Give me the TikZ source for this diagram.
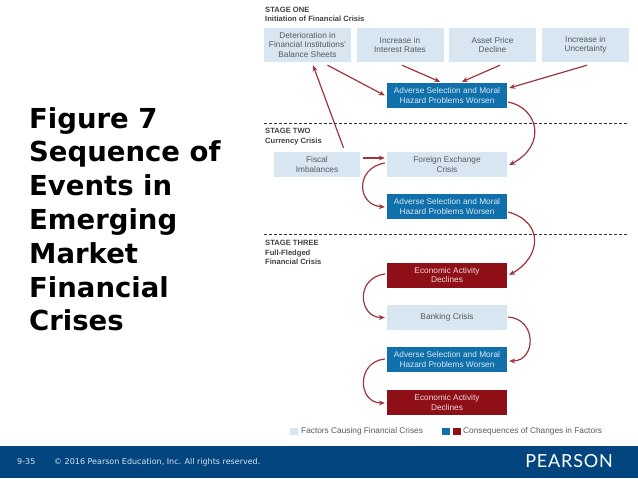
\documentclass[tikz,border=0pt]{standalone}
\usepackage{fontspec}
\setmainfont{Liberation Sans}
\newfontfamily\titlefont{DejaVu Sans}
\newfontfamily\footerfont{DejaVu Sans}
\newfontfamily\logofont[LetterSpace=4.5]{Lato}
\usetikzlibrary{arrows.meta}
\definecolor{factorcolor}{RGB}{215,230,240}
\definecolor{bluecolor}{RGB}{16,112,171}
\definecolor{redcolor}{RGB}{143,15,23}
\definecolor{arrowcolor}{RGB}{158,52,60}
\definecolor{footercolor}{RGB}{3,70,127}
\definecolor{boxtextcolor}{RGB}{85,90,95}
\tikzstyle{factorbox} = [fill=factorcolor, text=boxtextcolor, align=center, inner sep=0, font=\fontsize{8.3}{9.4}\selectfont]
\tikzstyle{bluebox} = [fill=bluecolor, text=white!85!bluecolor, align=center, inner sep=0, minimum width=120, minimum height=25, font=\fontsize{8.3}{9.4}\selectfont]
\tikzstyle{redbox} = [fill=redcolor, text=white!85!redcolor, align=center, inner sep=0, minimum width=120, minimum height=25, font=\fontsize{8.3}{9.4}\selectfont]
\tikzstyle{stagelabel} = [anchor=west, align=left, inner sep=0, text=black!75, font=\bfseries\fontsize{7.6}{9.4}\selectfont]
\tikzstyle{legendlabel} = [anchor=west, inner sep=0, text=boxtextcolor, font=\fontsize{8.3}{10}\selectfont]
\tikzstyle{swatch} = [inner sep=0, minimum width=8, minimum height=7]
\tikzstyle{link} = [-{Stealth[length=6pt,width=5pt]}, arrowcolor, line width=1.2pt]
\tikzstyle{stageline} = [black!80, line width=1pt, dash pattern=on 3pt off 2pt]

\begin{document}
\begin{tikzpicture}[x=1pt, y=-1pt]
            \useasboundingbox (0,0) rectangle (638,479);

            % Title
            \node[anchor=north west, align=left, inner sep=0, font=\titlefont\bfseries\fontsize{27.5}{33.8}\selectfont] (title) at (29,107) {Figure 7\\Sequence of\\Events in\\Emerging\\Market\\Financial\\Crises};

            % Stage one
            \node[stagelabel] (stageone) at (265,14.5) {STAGE ONE\\Initiation of Financial Crisis};
            \node[factorbox, minimum width=87, minimum height=34] (sheets) at (307.5,45) {Deterioration in\\Financial Institutions'\\Balance Sheets};
            \node[factorbox, minimum width=87, minimum height=34] (rates) at (400,45) {Increase in\\Interest Rates};
            \node[factorbox, minimum width=87, minimum height=34] (prices) at (492.5,45) {Asset Price\\Decline};
            \node[factorbox, minimum width=87, minimum height=34] (uncertainty) at (585.5,45) {Increase in\\Uncertainty};
            \node[bluebox] (adverseone) at (447,95.5) {Adverse Selection and Moral\\Hazard Problems Worsen};

            % Stage two
            \node[stagelabel] (stagetwo) at (265,136.5) {STAGE TWO\\Currency Crisis};
            \node[factorbox, minimum width=86, minimum height=25] (fiscal) at (317,164.5) {Fiscal\\Imbalances};
            \node[factorbox, minimum width=120, minimum height=25] (foreign) at (447,164.5) {Foreign Exchange\\Crisis};
            \node[bluebox] (adversetwo) at (447,206.5) {Adverse Selection and Moral\\Hazard Problems Worsen};

            % Stage three
            \node[stagelabel] (stagethree) at (265,252.5) {STAGE THREE\\Full-Fledged\\Financial Crisis};
            \node[redbox] (activityone) at (447,275) {Economic Activity\\Declines};
            \node[factorbox, minimum width=120, minimum height=25] (banking) at (447,317.5) {Banking Crisis};
            \node[bluebox] (adversethree) at (447,359.5) {Adverse Selection and Moral\\Hazard Problems Worsen};
            \node[redbox] (activitytwo) at (447,402.5) {Economic Activity\\Declines};

            % Connecting lines
            \draw[link] ([xshift=20, yshift=-3]sheets.south) -- ([xshift=-2, yshift=0]adverseone.west);
            \draw[link] ([xshift=2, yshift=-3]rates.south) -- ([xshift=-7, yshift=1]adverseone.north);
            \draw[link] ([xshift=7.5, yshift=-3]prices.south) -- ([xshift=15, yshift=1]adverseone.north);
            \draw[link] ([xshift=1.5, yshift=-3]uncertainty.south) -- ([xshift=2, yshift=7.5]adverseone.east);
            \draw[link] ([xshift=26.5, yshift=4]fiscal.north) -- ([xshift=5.5, yshift=-3]sheets.south);
            \draw[link] ([xshift=3, yshift=6.5]fiscal.east) -- ([xshift=-2, yshift=6.5]foreign.west);
            \draw[link] ([xshift=1, yshift=-6.5]adverseone.east) .. controls +(30,6) and +(38,-20) .. ([xshift=2, yshift=-0.5]foreign.east);
            \draw[link] ([xshift=-2, yshift=1.5]foreign.west) .. controls +(-30,5) and +(-28,-2) .. ([xshift=-2, yshift=-0.5]adversetwo.west);
            \draw[link] ([xshift=1, yshift=-5.5]adversetwo.east) .. controls +(36,10) and +(32,-18) .. ([xshift=2]activityone.east);
            \draw[link] ([xshift=-2, yshift=1]activityone.west) .. controls +(-30,4) and +(-26,0) .. ([xshift=-2]banking.west);
            \draw[link] ([xshift=1, yshift=0.5]banking.east) .. controls +(29,2) and +(27,0) .. ([xshift=2, yshift=-1.5]adversethree.east);
            \draw[link] ([xshift=-2, yshift=0.5]adversethree.west) .. controls +(-29,3) and +(-27,0) .. ([xshift=-2, yshift=-0.5]activitytwo.west);

            % Stage borders
            \coordinate (borderoneleft) at (264,123);
            \coordinate (borderoneright) at (629,123);
            \coordinate (bordertwoleft) at (264,234);
            \coordinate (bordertworight) at (629,234);
            \draw[stageline] (borderoneleft) -- (borderoneright);
            \draw[stageline] (bordertwoleft) -- (bordertworight);

            % Legend
            \node[swatch, fill=factorcolor] (swatchfactor) at (294,431) {};
            \node[legendlabel] (legendfactor) at (301,431) {Factors Causing Financial Crises};
            \node[swatch, fill=bluecolor] (swatchblue) at (446,431) {};
            \node[swatch, fill=redcolor] (swatchred) at (457,431) {};
            \node[legendlabel] (legendchange) at (463,431) {Consequences of Changes in Factors};

            % Footer
            \node[fill=footercolor, inner sep=0, minimum width=638, minimum height=32] (footer) at (319,462) {};
            \node[anchor=west, inner sep=0, text=white!85!footercolor, font=\footerfont\fontsize{8}{9}\selectfont] (page) at (17,462) {9-35};
            \node[anchor=west, inner sep=0, text=white!85!footercolor, font=\footerfont\fontsize{8}{9}\selectfont] (copyright) at (54,462) {© 2016 Pearson Education, Inc. All rights reserved.};
            \node[anchor=east, inner sep=0, text=white, font=\logofont\fontsize{18}{19}\selectfont] (pearson) at (613,461) {PEARSON};
        \end{tikzpicture}
\end{document}
